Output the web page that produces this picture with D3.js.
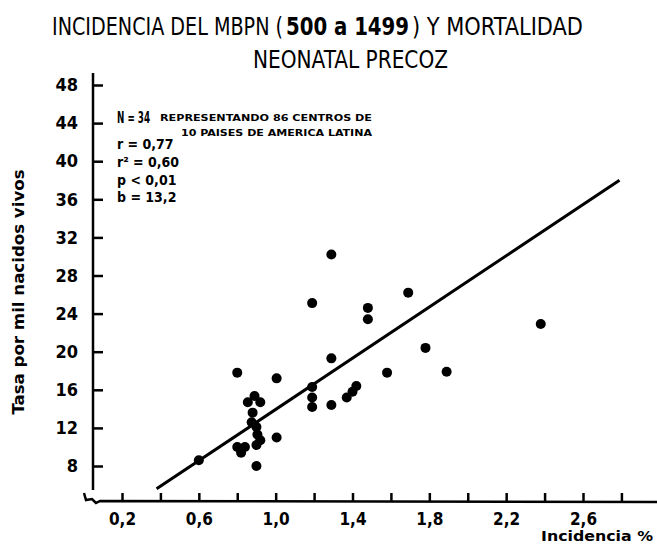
<!DOCTYPE html>
<html>
<head>
<meta charset="utf-8">
<script src="https://cdn.jsdelivr.net/npm/d3@7"></script>
<style>
body{margin:0;background:#fff}
text{font-family:"DejaVu Sans Condensed","DejaVu Sans",sans-serif;font-weight:bold;fill:#000}
</style>
</head>
<body>
<script>
// incidencia MBPN (%) vs tasa de mortalidad neonatal precoz
var incidencia = [0.60,0.80,0.80,0.82,0.84,0.855,0.89,0.92,0.88,0.875,0.90,0.905,0.92,0.90,0.90,1.005,1.005,
                  1.19,1.19,1.19,1.19,1.29,1.29,1.29,1.37,1.40,1.42,1.48,1.48,1.58,1.69,1.78,1.89,2.38]
var tasa = [8.6,17.8,10.0,9.4,10.0,14.7,15.35,14.7,13.6,12.6,12.1,11.3,10.7,10.2,8.0,17.2,11.0,
            25.1,16.3,15.2,14.2,30.2,19.3,14.4,15.2,15.8,16.4,24.6,23.4,17.8,26.2,20.4,17.9,22.9]
// recta de regresion (extremos)
var rectaX = [0.38,2.79]
var rectaY = [5.6,38.0]
var yTicks = [8,12,16,20,24,28,32,36,40,44,48]
var xTicks = [0.2,0.4,0.6,0.8,1.0,1.2,1.4,1.6,1.8,2.0,2.2,2.4,2.6,2.8]
var xLabels = [0.2,0.6,1.0,1.4,1.8,2.2,2.6]
var stats = ["r = 0,77","r² = 0,60","p < 0,01","b = 13,2"]

var width=657, height=545
var svg=d3.select("body").append("svg").attr("width",width).attr("height",height)

var x=d3.scaleLinear().domain([0.2,2.6]).range([122,583])
var y=d3.scaleLinear().domain([8,48]).range([466,85])
var axisX=93, axisY=502

// titulo (tres trozos para la parte en negrita)
svg.append("text").attr("x",52).attr("y",35).attr("font-size",24).style("font-weight","normal")
	.attr("textLength",231).attr("lengthAdjust","spacingAndGlyphs").text("INCIDENCIA DEL MBPN (")
svg.append("text").attr("x",286).attr("y",35).attr("font-size",24)
	.attr("textLength",123).attr("lengthAdjust","spacingAndGlyphs").text("500 a 1499")
svg.append("text").attr("x",412).attr("y",35).attr("font-size",24).style("font-weight","normal")
	.attr("textLength",171).attr("lengthAdjust","spacingAndGlyphs").text(") Y MORTALIDAD")
svg.append("text").attr("x",253).attr("y",68).attr("font-size",24).style("font-weight","normal")
	.attr("textLength",195).attr("lengthAdjust","spacingAndGlyphs").text("NEONATAL PRECOZ")

// eje y
svg.append("line").attr("x1",axisX).attr("x2",axisX).attr("y1",73).attr("y2",490)
	.attr("stroke","#000").attr("stroke-width",2.5)
var gy=svg.append("g").attr("transform","translate("+axisX+",0)")
	.call(d3.axisLeft(y).tickValues(yTicks).tickSize(-10).tickPadding(15))
gy.select(".domain").remove()
gy.selectAll(".tick line").attr("stroke","#000").attr("stroke-width",2.5)
gy.selectAll(".tick text").attr("font-size",18).attr("font-family",null)

// eje x
svg.append("path").attr("d","M84,493 L86,500 L92,499 L96,503 L100,501 L657,502")
	.attr("fill","none").attr("stroke","#000").attr("stroke-width",2.5)
var gx=svg.append("g").attr("transform","translate(0,"+axisY+")")
	.call(d3.axisBottom(x).tickValues(xTicks).tickSize(-9).tickPadding(11)
		.tickFormat(function(d){
			var show=xLabels.some(function(l){return Math.abs(l-d)<1e-6})
			return show ? d3.format(".1f")(d).replace(".",",") : ""
		}))
gx.select(".domain").remove()
gx.selectAll(".tick line").attr("stroke","#000").attr("stroke-width",2.5)
gx.selectAll(".tick text").attr("font-size",17).attr("font-family",null)

// titulos de ejes
svg.append("text").attr("transform","translate(24,292) rotate(-90)").attr("text-anchor","middle")
	.attr("font-size",15).attr("textLength",245).attr("lengthAdjust","spacingAndGlyphs")
	.text("Tasa por mil nacidos vivos")
svg.append("text").attr("x",541).attr("y",541).attr("font-size",14)
	.attr("textLength",112).attr("lengthAdjust","spacingAndGlyphs").text("Incidencia %")

// anotaciones
svg.append("text").attr("x",117).attr("y",123).attr("font-size",15)
	.attr("textLength",33).attr("lengthAdjust","spacingAndGlyphs").text("N = 34")
svg.append("text").attr("x",160).attr("y",121).attr("font-size",9)
	.attr("textLength",212).attr("lengthAdjust","spacingAndGlyphs").text("REPRESENTANDO 86 CENTROS DE")
svg.append("text").attr("x",181).attr("y",136).attr("font-size",9)
	.attr("textLength",191).attr("lengthAdjust","spacingAndGlyphs").text("10 PAISES DE AMERICA LATINA")
svg.selectAll("text.stat").data(stats).enter().append("text").attr("class","stat")
	.attr("x",117).attr("y",function(d,i){return [149,167,185,202][i]})
	.attr("font-size",14).text(function(d){return d})

// recta
svg.append("line").attr("x1",x(rectaX[0])).attr("y1",y(rectaY[0]))
	.attr("x2",x(rectaX[1])).attr("y2",y(rectaY[1]))
	.attr("stroke","#000").attr("stroke-width",3)

// puntos
svg.append("g").selectAll("circle").data(incidencia).enter().append("circle")
	.attr("cx",function(d){return x(d)})
	.attr("cy",function(d,i){return y(tasa[i])})
	.attr("r",5).attr("fill","#000")
</script>
</body>
</html>
